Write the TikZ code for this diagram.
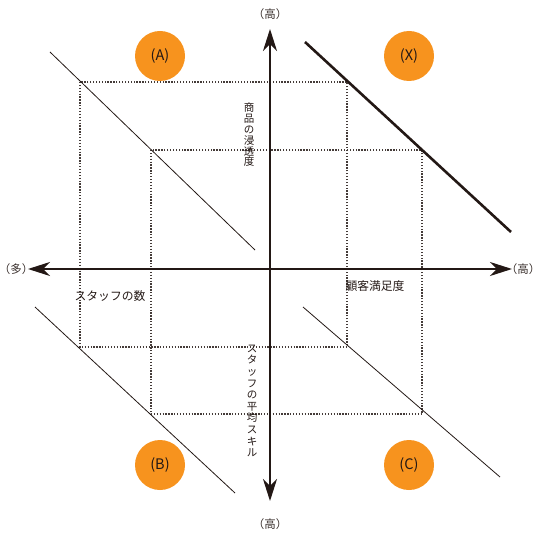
\documentclass[tikz,border=0pt]{standalone}
\usepackage{fontspec}
\setmainfont{Noto Sans CJK JP}
\usetikzlibrary{arrows.meta}
\definecolor{ink}{HTML}{231815}
\definecolor{badgeorange}{HTML}{F7931E}
\begin{document}
\begin{tikzpicture}[x=1pt,y=-1pt,
  axis/.style={draw=ink,line width=2pt,-{Stealth[length=22pt,width=14pt,inset=7pt]}},
  guide/.style={draw=ink!85,dash pattern=on 1.3pt off 1.6pt,line width=1.3pt},
  diag/.style={draw=ink,line width=0.8pt},
  badge/.style={circle,fill=badgeorange,minimum size=50pt,inner sep=0pt,text=ink,font=\fontsize{14.5}{14.5}\selectfont},
  lbl/.style={text=ink,font=\fontsize{11.8}{11.8}\selectfont},
  endlbl/.style={text=ink!90,font=\fontsize{11.5}{11.5}\selectfont},
  vlbl/.style={text=ink,align=center,inner sep=0pt,font=\fontsize{10.5}{11.6}\selectfont}]
\useasboundingbox (0,0) rectangle (540,540);
% origine et extremites des axes
\coordinate (O) at (270,269);
\coordinate (top) at (270,29);
\coordinate (bot) at (270,501);
\coordinate (left) at (28,269);
\coordinate (right) at (512,269);
\node[endlbl] (hiTop) at (270,14) {（高）};
\node[endlbl] (hiBot) at (270,524) {（高）};
\node[endlbl] (many) at (16,269) {（多）};
\node[endlbl] (hiRight) at (523,269) {（高）};
% carres pointilles
\coordinate (o1) at (80,82);
\coordinate (o2) at (347,347);
\coordinate (i1) at (151,150);
\coordinate (i2) at (422,414);
\draw[guide] (o1) rectangle (o2);
\draw[guide] (i1) rectangle (i2);
% diagonales
\coordinate (a1) at (50,52);
\coordinate (a2) at (255,250);
\coordinate (x1) at (305,42);
\coordinate (x2) at (511,232);
\coordinate (b1) at (35,307);
\coordinate (b2) at (235,493);
\coordinate (c1) at (303,307);
\coordinate (c2) at (500,477);
\draw[diag] (a1) -- (a2);
\draw[diag,line width=2.6pt] (x1) -- (x2);
\draw[diag] (b1) -- (b2);
\draw[diag] (c1) -- (c2);
% axes
\draw[axis] (O) -- (top);
\draw[axis] (O) -- (bot);
\draw[axis] (O) -- (left);
\draw[axis] (O) -- (right);
% textes des axes
\node[vlbl,font=\fontsize{10.5}{10.8}\selectfont] (penetration) at (249,135) {商\\品\\の\\浸\\透\\度};
\node[vlbl] (skill) at (252,401) {ス\\タ\\ッ\\フ\\の\\平\\均\\ス\\キ\\ル};
\node[lbl] (staff) at (110,296) {スタッフの数};
\node[lbl] (satisfaction) at (375,286) {顧客満足度};
% pastilles
\node[badge] (A) at (160,56) {(A)};
\node[badge] (X) at (409,56) {(X)};
\node[badge] (B) at (160,465) {(B)};
\node[badge] (C) at (409,465) {(C)};
\end{tikzpicture}
\end{document}
